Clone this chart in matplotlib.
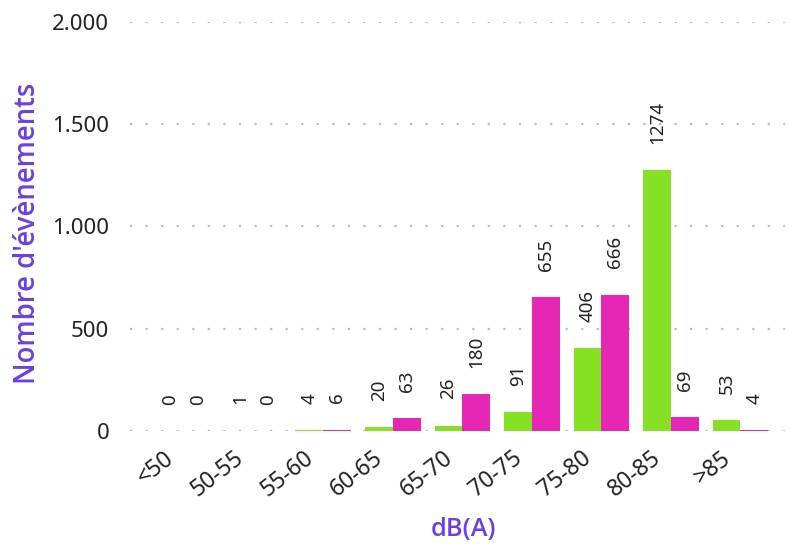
import matplotlib
matplotlib.use("Agg")
import matplotlib.pyplot as plt
import matplotlib.transforms as mtransforms
import numpy as np

categories = ["<50", "50-55", "55-60", "60-65", "65-70", "70-75", "75-80", "80-85", ">85"]
series_green = [0, 1, 4, 20, 26, 91, 406, 1274, 53]
series_pink = [0, 0, 6, 63, 180, 655, 666, 69, 4]
yticks = [0, 500, 1000, 1500, 2000]
ytick_labels = ["0", "500", "1.000", "1.500", "2.000"]

GREEN = "#86E125"
PINK = "#E627B6"
PURPLE = "#6A3FE6"

plt.rcParams['font.family'] = ['Noto Sans', 'DejaVu Sans']

fig = plt.figure(figsize=(7.9, 5.46), dpi=100)
ax = fig.add_axes([130/790, (546-431)/546, (785-130)/790, (431-22)/546])

x = np.arange(len(categories))
w = 0.4
b1 = ax.bar(x - w/2, series_green, w, color=GREEN)
b2 = ax.bar(x + w/2, series_pink, w, color=PINK)

for bars, vals in ((b1, series_green), (b2, series_pink)):
    for rect, v in zip(bars, vals):
        ax.annotate(str(v), (rect.get_x() + rect.get_width()/2, rect.get_height()),
                    xytext=(0, 19), textcoords="offset points",
                    rotation=90, ha="center", va="bottom", fontsize=13.5, color="#222222")

ax.set_xlim(-0.78, 8.64)
ax.set_ylim(0, 2000)
ax.set_yticks(yticks)
ax.set_yticklabels(ytick_labels)
ax.set_xticks(x)
ax.set_xticklabels(categories, rotation=38, ha="right", va="top", rotation_mode="anchor")
ax.tick_params(axis="y", length=0, pad=15, labelsize=16, labelcolor="#222222")
ax.tick_params(axis="x", length=0, pad=11, labelsize=16.5, labelcolor="#222222")
shift = mtransforms.ScaledTranslation(-20/100, 0, fig.dpi_scale_trans)
for lab in ax.get_xticklabels():
    lab.set_transform(lab.get_transform() + shift)

ax.grid(axis="y", color="#BDBDBD", linestyle=(0, (1, 6)), linewidth=1.6)
ax.set_axisbelow(True)
for s in ax.spines.values():
    s.set_visible(False)

fig.text(28/790, 1 - 233/546, "Nombre d'évènements", rotation=90, ha="center", va="center",
         fontsize=19.8, color=PURPLE, fontweight="semibold", family=["Open Sans", "DejaVu Sans"])
fig.text(464/790, 1 - 530/546, "dB(A)", ha="center", va="center",
         fontsize=18.3, color=PURPLE, fontweight="semibold", family=["Open Sans", "DejaVu Sans"])

fig.savefig("out.png", dpi=100)
